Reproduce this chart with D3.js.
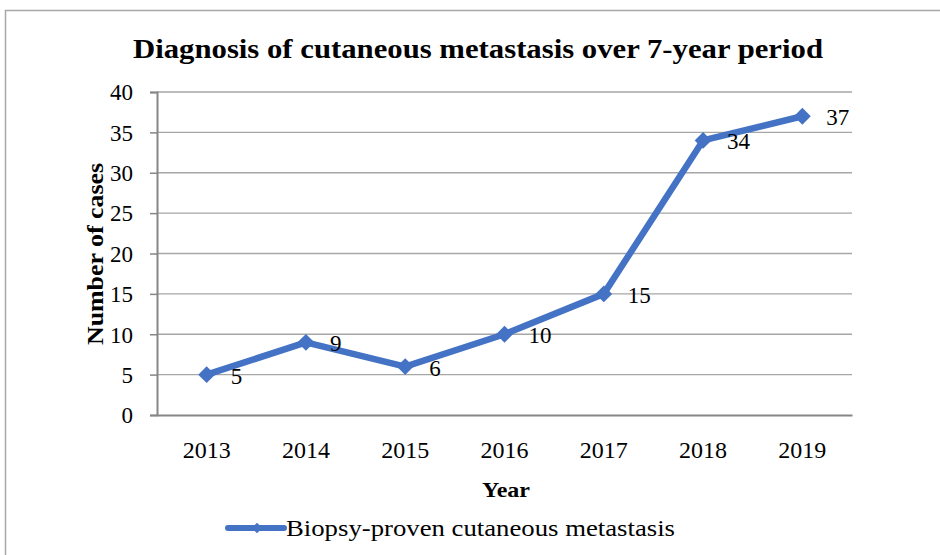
<!DOCTYPE html>
<html>
<head>
<meta charset="utf-8">
<script src="https://cdn.jsdelivr.net/npm/d3@7"></script>
<style>
  body { margin: 0; background: #fff; }
  text { font-family: "Liberation Serif", "DejaVu Serif", serif; fill: #000; }
</style>
</head>
<body>
<div id="chart"></div>
<script>
const years = ['2013', '2014', '2015', '2016', '2017', '2018', '2019'];
const cases = [5, 9, 6, 10, 15, 34, 37];
const yTicks = [0, 5, 10, 15, 20, 25, 30, 35, 40];
const seriesName = 'Biopsy-proven cutaneous metastasis';

const width = 940, height = 555;
const margin = { top: 92, right: 88, bottom: 140, left: 157 };
const blue = '#4472c4';
const fontFamily = '"Liberation Serif", "DejaVu Serif", serif';

const svg = d3.select('#chart')
    .append('svg')
    .attr('width', width)
    .attr('height', height);

// outer frame of the chart object
svg.append('rect')
    .attr('x', 5.5).attr('y', 10.5)
    .attr('width', 960).attr('height', 600)
    .attr('fill', 'none')
    .attr('stroke', '#a6a6a6')
    .attr('stroke-width', 1.5);

const x = d3.scaleBand()
    .domain(years)
    .range([margin.left, width - margin.right]);

const y = d3.scaleLinear()
    .domain([0, 40])
    .range([height - margin.bottom, margin.top]);

const cx = d => x(d) + x.bandwidth() / 2;

// gridlines
svg.append('g')
    .selectAll('line')
    .data(yTicks.filter(d => d > 0))
    .join('line')
    .attr('x1', margin.left).attr('x2', width - margin.right)
    .attr('y1', d => y(d)).attr('y2', d => y(d))
    .attr('stroke', '#a6a6a6')
    .attr('stroke-width', 1.3);

// y axis
const yAxis = svg.append('g')
    .attr('transform', `translate(${margin.left},0)`)
    .call(d3.axisLeft(y).tickValues(yTicks).tickSize(7).tickPadding(24 - 7));
yAxis.select('.domain').attr('stroke', '#868686').attr('stroke-width', 2);
yAxis.selectAll('.tick line').attr('stroke', '#868686').attr('stroke-width', 1.5);
yAxis.selectAll('.tick text')
    .attr('font-size', 23).attr('dy', '0.34em')
    .style('font-family', fontFamily);

// x axis
const xAxis = svg.append('g')
    .attr('transform', `translate(0,${y(0)})`)
    .call(d3.axisBottom(x).tickSize(0).tickPadding(26));
xAxis.select('.domain').attr('stroke', '#868686').attr('stroke-width', 2);
xAxis.selectAll('.tick text')
    .attr('font-size', 24)
    .style('font-family', fontFamily);

// series line
const line = d3.line()
    .x((d, i) => cx(years[i]))
    .y(d => y(d));

svg.append('path')
    .datum(cases)
    .attr('d', line)
    .attr('fill', 'none')
    .attr('stroke', blue)
    .attr('stroke-width', 6.5)
    .attr('stroke-linejoin', 'round');

svg.append('g')
    .selectAll('path')
    .data(cases)
    .join('path')
    .attr('d', d3.symbol().type(d3.symbolDiamond2).size(180))
    .attr('transform', (d, i) => `translate(${cx(years[i])},${y(d)})`)
    .attr('fill', blue);

// data labels
svg.append('g')
    .selectAll('text')
    .data(cases)
    .join('text')
    .attr('x', (d, i) => cx(years[i]) + 24)
    .attr('y', d => y(d) + 9)
    .attr('font-size', 23)
    .text(d => d);

// title
svg.append('text')
    .attr('x', 478).attr('y', 58)
    .attr('text-anchor', 'middle')
    .attr('font-size', 27)
    .attr('font-weight', 'bold')
    .attr('textLength', 690)
    .attr('lengthAdjust', 'spacingAndGlyphs')
    .text('Diagnosis of cutaneous metastasis over 7-year period');

// axis titles
svg.append('text')
    .attr('x', 506)
    .attr('y', 497)
    .attr('text-anchor', 'middle')
    .attr('font-size', 22)
    .attr('font-weight', 'bold')
    .attr('textLength', 48)
    .attr('lengthAdjust', 'spacingAndGlyphs')
    .text('Year');

svg.append('text')
    .attr('transform', `translate(103,254) rotate(-90)`)
    .attr('text-anchor', 'middle')
    .attr('font-size', 23)
    .attr('font-weight', 'bold')
    .attr('textLength', 182)
    .attr('lengthAdjust', 'spacingAndGlyphs')
    .text('Number of cases');

// legend
const legend = svg.append('g').attr('transform', 'translate(228,528)');
legend.append('line')
    .attr('x1', 0).attr('x2', 56)
    .attr('stroke', blue)
    .attr('stroke-width', 6)
    .attr('stroke-linecap', 'round');
legend.append('path')
    .attr('d', d3.symbol().type(d3.symbolDiamond2).size(70))
    .attr('transform', 'translate(29,0)')
    .attr('fill', blue);
legend.append('text')
    .attr('x', 58).attr('y', 8)
    .attr('font-size', 24)
    .attr('textLength', 389)
    .attr('lengthAdjust', 'spacingAndGlyphs')
    .text(seriesName);
</script>
</body>
</html>
